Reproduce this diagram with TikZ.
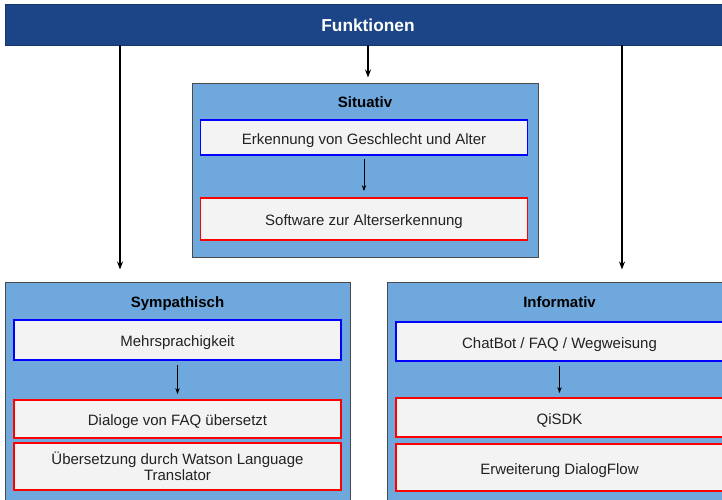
\documentclass[tikz,border=0pt]{standalone}
\usepackage{fontspec}
\setmainfont{Liberation Sans}
\usetikzlibrary{arrows.meta}
\definecolor{barblue}{HTML}{1C4587}
\definecolor{groupfill}{HTML}{6FA8DC}
\definecolor{groupline}{HTML}{4A4A4A}
\definecolor{itemfill}{HTML}{F3F3F3}
\definecolor{itemtext}{HTML}{222222}
\begin{document}
\begin{tikzpicture}[x=1pt,y=-1pt,
  group/.style={draw=groupline, fill=groupfill, line width=1pt, rectangle, inner sep=0pt},
  itembox/.style={fill=itemfill, line width=1.8pt, rectangle, inner sep=0pt, minimum width=327pt,
     text=itemtext, align=center, font=\fontsize{15}{16}\selectfont},
  oneline/.style={text height=13pt, text depth=0pt},
  bluebox/.style={itembox, draw=blue},
  redbox/.style={itembox, draw=red},
  grouptitle/.style={font=\fontsize{15}{17}\selectfont\bfseries, text=black, inner sep=0pt, anchor=base},
  conn/.style={-{Stealth[length=8pt,width=6pt]}, line width=1.3pt, black},
  innerconn/.style={-{Stealth[length=6pt,width=4.5pt]}, line width=0.9pt, black}]
\useasboundingbox (0,0) rectangle (722,499);
\clip (0,0) rectangle (722,499);

% top bar
\node[fill=barblue, draw=barblue!80!black, line width=0.8pt, minimum width=726pt, minimum height=41pt, inner sep=0pt,
  text=white, font=\fontsize{17.3}{20}\selectfont\bfseries, text height=13pt, text depth=0pt] (bar) at (368,24.5) {Funktionen};

% Situativ group
\node[group, minimum width=346pt, minimum height=174pt] (sit) at (365,170) {};
\node[grouptitle] (sittitle) at (365,107) {Situativ};
\node[bluebox, oneline, minimum height=35pt] (sit1) at (364,137.5) {Erkennung von Geschlecht und Alter};
\node[redbox, oneline, minimum height=42pt] (sit2) at (364,219) {Software zur Alterserkennung};
\draw[innerconn, shorten <=3pt, shorten >=6pt] (sit1.south) -- (sit2.north);

% Sympathisch group
\node[group, minimum width=345pt, minimum height=228pt] (sym) at (177.5,396) {};
\node[grouptitle] (symtitle) at (177.5,307) {Sympathisch};
\node[bluebox, oneline, minimum height=40pt] (sym1) at (177.5,340) {Mehrsprachigkeit};
\node[redbox, oneline, minimum height=38pt] (sym2) at (177.5,419) {Dialoge von FAQ übersetzt};
\node[redbox, minimum height=47pt] (sym3) at (177.5,466.5) {Übersetzung durch Watson Language\\Translator};
\draw[innerconn, shorten <=4pt, shorten >=5pt] (sym1.south) -- (sym2.north);

% Informativ group
\node[group, minimum width=345pt, minimum height=228pt] (inf) at (559.5,396) {};
\node[grouptitle] (inftitle) at (559.5,307) {Informativ};
\node[bluebox, oneline, minimum height=39pt] (inf1) at (559.5,341.5) {ChatBot / FAQ / Wegweisung};
\node[redbox, oneline, minimum height=39pt] (inf2) at (559.5,417.5) {QiSDK};
\node[redbox, oneline, minimum height=47pt] (inf3) at (559.5,467.5) {Erweiterung DialogFlow};
\draw[innerconn, shorten <=4pt, shorten >=4pt] (inf1.south) -- (inf2.north);

% connectors from the bar
\coordinate (lstart) at (120,45);
\coordinate (rstart) at (622,45);
\coordinate (cstart) at (368,45);
\draw[conn, shorten >=12pt] (lstart) -- (lstart |- sym.north);
\draw[conn, shorten >=12pt] (rstart) -- (rstart |- inf.north);
\draw[conn, shorten >=5pt] (cstart) -- (cstart |- sit.north);
\end{tikzpicture}
\end{document}
